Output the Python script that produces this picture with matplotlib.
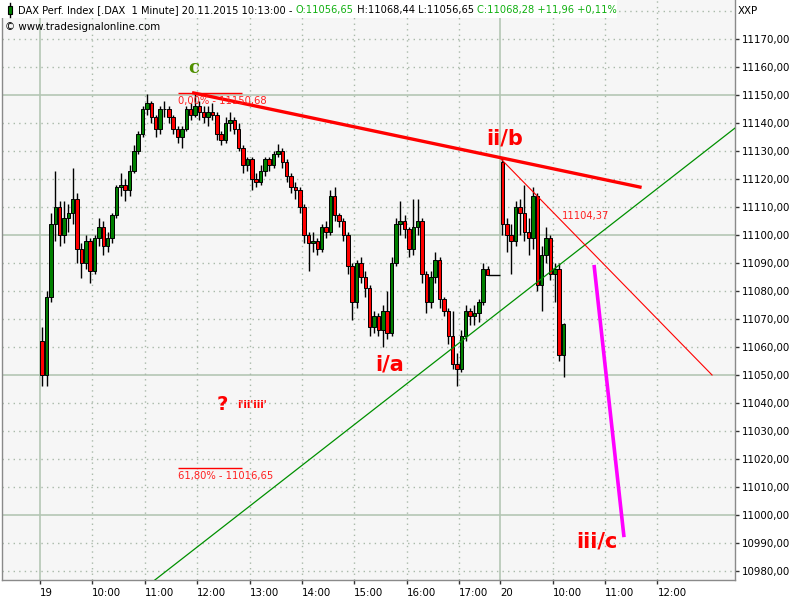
import numpy as np
import matplotlib.pyplot as plt
from matplotlib.patches import Rectangle
from matplotlib.lines import Line2D
from matplotlib.text import Annotation
from matplotlib.ticker import FixedLocator, FuncFormatter

# 5 minute bars, 19.11.2015 09:00 - 17:35
d19_open = [11062, 11050, 11078, 11104, 11110, 11100, 11106, 11108, 11113, 11095,
            11090, 11098, 11087, 11099, 11103, 11096, 11099, 11107, 11117, 11118,
            11116, 11123, 11130, 11136, 11145, 11147, 11142, 11138, 11145, 11145,
            11142, 11138, 11135, 11138, 11145, 11143, 11146, 11144, 11142, 11144,
            11143, 11136, 11134, 11140, 11141, 11138, 11131, 11125, 11127, 11120,
            11119, 11123, 11127, 11125, 11129, 11130, 11126, 11121, 11117, 11116,
            11110, 11100, 11097, 11098, 11095, 11103, 11101, 11114, 11107, 11105,
            11100, 11089, 11076, 11090, 11085, 11081, 11067, 11071, 11066, 11073,
            11065, 11090, 11104, 11105, 11102, 11095, 11103, 11105, 11086, 11076,
            11085, 11091, 11077, 11073, 11064, 11054, 11052, 11064, 11073, 11071,
            11072, 11076, 11088]
d19_high = [11067, 11080, 11108, 11123, 11112, 11112, 11111, 11124, 11115, 11097,
            11100, 11099, 11100, 11106, 11105, 11101, 11108, 11118, 11122, 11120,
            11125, 11132, 11137, 11146, 11150.4, 11148, 11143, 11146, 11148, 11146,
            11143, 11139, 11139, 11146, 11147, 11150.7, 11148, 11146, 11146, 11147,
            11144, 11137, 11142, 11144, 11142, 11140, 11132, 11128, 11128, 11122,
            11125, 11128, 11128, 11130, 11132.5, 11131, 11127, 11122, 11119, 11117,
            11111, 11101, 11101, 11099, 11104, 11105, 11116, 11117, 11108, 11106,
            11101, 11090, 11091, 11092, 11087, 11082, 11073, 11072, 11075, 11080,
            11092, 11106, 11112, 11107, 11103, 11113, 11113, 11106, 11087, 11087,
            11094, 11092, 11078, 11074, 11073, 11058, 11066, 11075, 11074, 11075,
            11077, 11090, 11089]
d19_low = [11046, 11046, 11076, 11098, 11096, 11097, 11101, 11104, 11090, 11084.5,
           11088, 11083, 11086, 11096, 11093, 11094, 11097, 11106, 11114, 11112,
           11114, 11122, 11129, 11135, 11143, 11140, 11135, 11136, 11142, 11140,
           11136, 11133, 11131, 11137, 11141, 11142, 11141, 11140, 11139, 11141,
           11134, 11132, 11133, 11137, 11136, 11130, 11122, 11123, 11116, 11117,
           11118, 11121, 11123, 11124, 11128, 11124, 11119, 11115, 11113, 11108,
           11097, 11087, 11094, 11093, 11094, 11099, 11100, 11105, 11103, 11098,
           11086, 11069.6, 11074, 11083, 11078, 11064, 11065, 11064, 11060, 11063,
           11064, 11089, 11100, 11099, 11092, 11093, 11100, 11083, 11072, 11074,
           11083, 11074, 11071, 11061, 11052, 11046, 11051, 11062, 11068, 11068,
           11069, 11075, 11085.7]
d19_close = [11050, 11078, 11104, 11110, 11100, 11106, 11108, 11113, 11095, 11090,
             11098, 11087, 11099, 11103, 11096, 11099, 11107, 11117, 11118, 11116,
             11123, 11130, 11136, 11145, 11147, 11142, 11138, 11145, 11145, 11142,
             11138, 11135, 11138, 11145, 11143, 11146, 11144, 11142, 11144, 11143,
             11136, 11134, 11140, 11141, 11138, 11131, 11125, 11127, 11120, 11119,
             11123, 11127, 11125, 11129, 11130, 11126, 11121, 11117, 11116, 11110,
             11100, 11097, 11098, 11095, 11103, 11101, 11114, 11107, 11105, 11100,
             11089, 11076, 11090, 11085, 11081, 11067, 11071, 11066, 11073, 11065,
             11090, 11104, 11105, 11102, 11095, 11103, 11105, 11086, 11076, 11085,
             11091, 11077, 11073, 11064, 11054, 11052, 11064, 11073, 11071, 11072,
             11076, 11088, 11085.7]
after_hours = 11085.7

# 5 minute bars, 20.11.2015 09:00 - 10:13
d20_open = [11126, 11104, 11100, 11098, 11110, 11108, 11101, 11099, 11114, 11082,
            11093, 11099, 11086, 11088, 11057]
d20_high = [11127.4, 11106, 11104, 11112, 11113, 11118, 11106, 11117, 11115, 11096,
            11103, 11100, 11090, 11090, 11068.44]
d20_low = [11100, 11094, 11086, 11096, 11100, 11098, 11093, 11095, 11080, 11073,
           11090, 11084, 11076, 11055, 11049.4]
d20_close = [11104, 11100, 11098, 11110, 11108, 11101, 11099, 11114, 11082, 11093,
             11099, 11086, 11088, 11057, 11068.28]

# x axis: minutes from 19.11. 09:00, 20.11. 09:00 sits at 527
DAY2 = 527
tick_pos = [0, 60, 120, 180, 240, 300, 360, 420, 480, DAY2, DAY2 + 60, DAY2 + 120, DAY2 + 180]
tick_lab = ['19', '10:00', '11:00', '12:00', '13:00', '14:00', '15:00', '16:00', '17:00',
            '20', '10:00', '11:00', '12:00']

# drawings (minute, price)
red_trend = [(176, 11150.7), (687, 11117.1)]
green_trend = [(120, 10974.0), (800, 11139.2)]
red_thin = [(526.7, 11127.5), (769.5, 11050.0)]
pink_proj = [(634.4, 11089.3), (668.7, 10992.1)]
fib_levels = [11150.68, 11016.65]
fib_labels = ['0,00% - 11150,68', '61,80% - 11016,65']

BAR = 5

fig = plt.figure(figsize=(8, 6), dpi=100)
fig.patch.set_facecolor('white')
ax = fig.add_axes([2 / 800, 20 / 600, 733 / 800, 580 / 600])
ax.set_facecolor('#f6f6f6')
ax.set_xlim(-43.5, 795.8)
ax.set_ylim(10976.8, 11183.9)

# grid
for v in range(10980, 11190, 10):
    if v % 50 == 0:
        ax.axhline(v, color='#b4c6b4', lw=1.2, zorder=1)
    else:
        ax.axhline(v, color='#a9b9a9', lw=1, ls=(0, (1, 3)), zorder=1)
for p in tick_pos:
    if p in (0, DAY2):
        ax.axvline(p, color='#b4c6b4', lw=1.2, zorder=1)
    else:
        ax.axvline(p, color='#a9b9a9', lw=1, ls=(0, (1, 3)), zorder=1)


def candles(x, o, h, l, c):
    o, h, l, c = map(np.array, (o, h, l, c))
    ax.vlines(x, l, h, color='black', lw=1, zorder=3)
    up = c >= o
    ax.bar(x[up], c[up] - o[up], bottom=o[up], width=4.0, color='#008000',
           edgecolor='black', lw=0.7, zorder=4)
    ax.bar(x[~up], c[~up] - o[~up], bottom=o[~up], width=4.0, color='#ff0000',
           edgecolor='black', lw=0.7, zorder=4)


x19 = np.arange(len(d19_open)) * BAR + BAR / 2
x20 = DAY2 + np.arange(len(d20_open)) * BAR + BAR / 2
candles(x19, d19_open, d19_high, d19_low, d19_close)
candles(x20, d20_open, d20_high, d20_low, d20_close)
ax.hlines(after_hours, x19[-1], DAY2, color='black', lw=1, zorder=3)

# trend lines
ax.plot(*zip(*green_trend), color='#009000', lw=0.9, zorder=5)
ax.plot(*zip(*red_thin), color='#ff0000', lw=0.8, zorder=5)
ax.plot(*zip(*red_trend), color='#ff0000', lw=2.4, zorder=6)
ax.plot(*zip(*pink_proj), color='#ff00ff', lw=2.6, solid_capstyle='butt', zorder=6)

for lev, lab in zip(fib_levels, fib_labels):
    ax.hlines(lev, 158, 231.3, color='#ff0000', lw=1, zorder=6)
    ax.text(158, lev - 0.9, lab, color='#ff2020', fontsize=7.2, va='top', ha='left', zorder=7)

# labels
ax.text(176.3, 11159.6, 'c', color='#4f8f00', fontsize=13, fontweight='bold',
        family='DejaVu Serif', ha='center', va='center', zorder=7)
ax.text(532.5, 11134.6, 'ii/b', color='#ff0000', fontsize=15, fontweight='bold',
        ha='center', va='center', zorder=7)
ax.text(400.8, 11053.9, 'i/a', color='#ff0000', fontsize=15, fontweight='bold',
        ha='center', va='center', zorder=7)
ax.text(637.8, 10990.4, 'iii/c', color='#ff0000', fontsize=15, fontweight='bold',
        ha='center', va='center', zorder=7)
ax.text(208.4, 11039.3, '?', color='#ff0000', fontsize=14, fontweight='bold',
        ha='center', va='center', zorder=7)
ax.text(225.6, 11039.3, "i'ii'iii'", color='#ff0000', fontsize=7, fontweight='bold',
        ha='left', va='center', zorder=7)
ax.text(597.7, 11106.8, '11104,37', color='#ff2020', fontsize=7.2,
        ha='left', va='center', zorder=7)

# axes
ax.spines['top'].set_visible(False)
for side in ('left', 'bottom', 'right'):
    ax.spines[side].set_color('#8a8a8a')
    ax.spines[side].set_linewidth(1)

ax.yaxis.tick_right()
ax.yaxis.set_major_locator(FixedLocator(range(10980, 11180, 10)))
ax.yaxis.set_major_formatter(FuncFormatter(lambda v, _: f'{v:.2f}'.replace('.', ',')))
ax.tick_params(axis='y', length=3, width=1, pad=2, labelsize=7.4, color='#333333')
ax.xaxis.set_major_locator(FixedLocator(tick_pos))
ax.set_xticklabels(tick_lab, ha='left')
ax.tick_params(axis='x', length=3, width=1, pad=3, labelsize=7.4, color='#333333')

# header
fig.add_artist(Rectangle((0, 1 - 18 / 600), 617 / 800, 18 / 600, transform=fig.transFigure,
                         facecolor='white', edgecolor='none', zorder=5))
fig.add_artist(Line2D([10 / 800, 10 / 800], [1 - 3 / 600, 1 - 17 / 600],
                      color='black', lw=1, zorder=6))
fig.add_artist(Rectangle((8 / 800, 1 - 14 / 600), 4 / 800, 8 / 600, transform=fig.transFigure,
                         facecolor='#008000', edgecolor='black', lw=0.8, zorder=7))
parts = [('DAX Perf. Index [.DAX  1 Minute] 20.11.2015 10:13:00 - ', 'black'),
         ('O:11056,65', '#10b010'),
         (' H:11068,44 L:11056,65 ', 'black'),
         ('C:11068,28 +11,96 +0,11%', '#10b010')]
t = fig.text(18 / 800, 1 - 10 / 600, parts[0][0], color=parts[0][1], fontsize=7.1,
             va='center', ha='left', zorder=8)
for s, col in parts[1:]:
    t = Annotation(s, xy=(1, 0), xycoords=t, va='bottom', ha='left', color=col,
                   fontsize=7.1, zorder=8)
    fig.add_artist(t)
fig.text(5 / 800, 1 - 27 / 600, '\u00a9 www.tradesignalonline.com', color='black',
         fontsize=7.4, va='center', ha='left', zorder=8)
fig.text(738 / 800, 1 - 11 / 600, 'XXP', color='black', fontsize=7.4, va='center', ha='left')

fig.savefig('out.png', dpi=100)
